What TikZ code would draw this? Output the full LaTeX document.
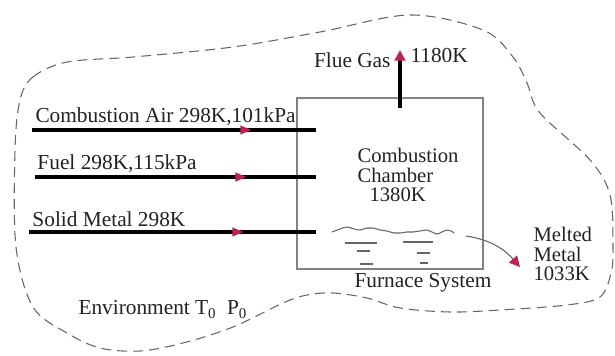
\documentclass[tikz,border=0pt]{standalone}
\usepackage{fontspec}
\setmainfont{Liberation Serif}
\usetikzlibrary{arrows.meta,decorations.markings}

\definecolor{tipred}{RGB}{192,32,84}
\definecolor{edgegray}{RGB}{130,130,130}
\definecolor{inkgray}{RGB}{34,34,34}

\tikzset{every picture/.style={line width=0.75pt}}
\tikzset{
	stream/.style={draw=black, line width=2.5pt,
		decoration={markings, mark=at position #1 with {\fill [tipred] (4.5pt,0) -- (-3.5pt,3.5pt) -- (-3.5pt,-3.5pt) -- cycle;}},
		postaction={decorate}},
	boundary/.style={draw=black!60, line width=0.8pt, dash pattern={on 7.5pt off 4.5pt}},
	furnace/.style={draw=edgegray, line width=1.1pt, minimum width=139.5pt, minimum height=128.25pt, inner sep=0pt},
	liquid/.style={draw=black!60, line width=0.8pt},
	txt/.style={text=inkgray, inner sep=0pt, font=\fontsize{16}{14.5}\selectfont},
	stack/.style={txt, align=left, font=\fontsize{15.5}{14.5}\selectfont}
}

\begin{document}
\begin{tikzpicture}[x=0.75pt,y=0.75pt,yscale=-1,xscale=1]
	\useasboundingbox (0,0) rectangle (615,356);

	%Shape: Dashed boundary [environment]
	\draw [boundary] plot [smooth cycle, tension=0.55] coordinates {(20,100) (33,77) (67,62) (133,57) (233,47) (320,32) (410,15) (483,30) (513,57) (527,83) (540,113) (590,160) (610,195) (613,247) (611,273) (600,297) (567,305) (500,310) (450,312) (400,308) (367,298) (333,293) (307,295) (283,303) (233,327) (183,343) (140,351) (100,348) (67,333) (33,307) (16,247) (15,150)};

	%Shape: Rectangle [furnace]
	\node [furnace] (box) at (390,183.5) {};

	%Straight Lines [inlet streams]
	\coordinate (airin) at (32,130);
	\coordinate (airout) at (316,130);
	\coordinate (fuelin) at (35,177);
	\coordinate (fuelout) at (316,177);
	\coordinate (metalin) at (29,232);
	\coordinate (metalout) at (316,232);
	\draw [stream=0.75] (airin) -- (airout);
	\draw [stream=0.73] (fuelin) -- (fuelout);
	\draw [stream=0.725] (metalin) -- (metalout);

	%Straight Lines [flue gas]
	\coordinate (fluebase) at (400,108);
	\coordinate (fluetop) at (400,50);
	\draw [line width=2.5pt, -{Triangle[length=8pt,width=8pt,color=tipred]}] (fluebase) -- (fluetop);

	%Curve Lines [liquid surface]
	\draw [liquid] plot [smooth, tension=0.6] coordinates {(332,232) (340,229) (347,227) (354,229) (360,230) (367,228) (373,228) (380,230) (387,231) (394,233) (400,233) (407,232) (413,232) (420,231) (427,230) (432,232) (437,234) (442,232) (447,230) (451,231) (454,233)};
	\draw [liquid] (345,243) -- (377,243) (403,242) -- (433,242);
	\draw [liquid] (357,251) -- (370,251) (417,253) -- (430,253);
	\draw [liquid] (360,264) -- (373,264) (420,263) -- (428,263);

	%Curve Lines [melted metal outlet]
	\coordinate (surfend) at (466,236);
	\coordinate (meltedtip) at (520,267);
	\draw [liquid, -{Triangle[length=8pt,width=8pt,color=tipred]}] (surfend) .. controls (492,240) and (505,250) .. (meltedtip);

	% Text Node
	\node [txt, anchor=base west] (airlabel) at (35,123) {Combustion Air 298K,101kPa};
	% Text Node
	\node [txt, anchor=base west] (fuellabel) at (37,170) {Fuel 298K,115kPa};
	% Text Node
	\node [txt, anchor=base west] (metallabel) at (32,227) {Solid Metal 298K};
	% Text Node
	\node [txt, anchor=base east] (fluelabel) at (391,68) {Flue Gas};
	% Text Node
	\node [txt, anchor=base west] (fluetemp) at (410,63) {1180K};
	% Text Node
	\node [stack, anchor=north west] (chamber) at (357,148) {Combustion\\Chamber\\\hspace{9pt}1380K};
	% Text Node
	\node [stack, anchor=north west] (melted) at (533,227) {Melted\\Metal\\1033K};
	% Text Node
	\node [txt] (furnacelabel) at (423,283) {Furnace System};
	% Text Node
	\node [txt, anchor=base west] (envlabel) at (78,315) {Environment T\textsubscript{0}\ \ P\textsubscript{0}};

\end{tikzpicture}
\end{document}
